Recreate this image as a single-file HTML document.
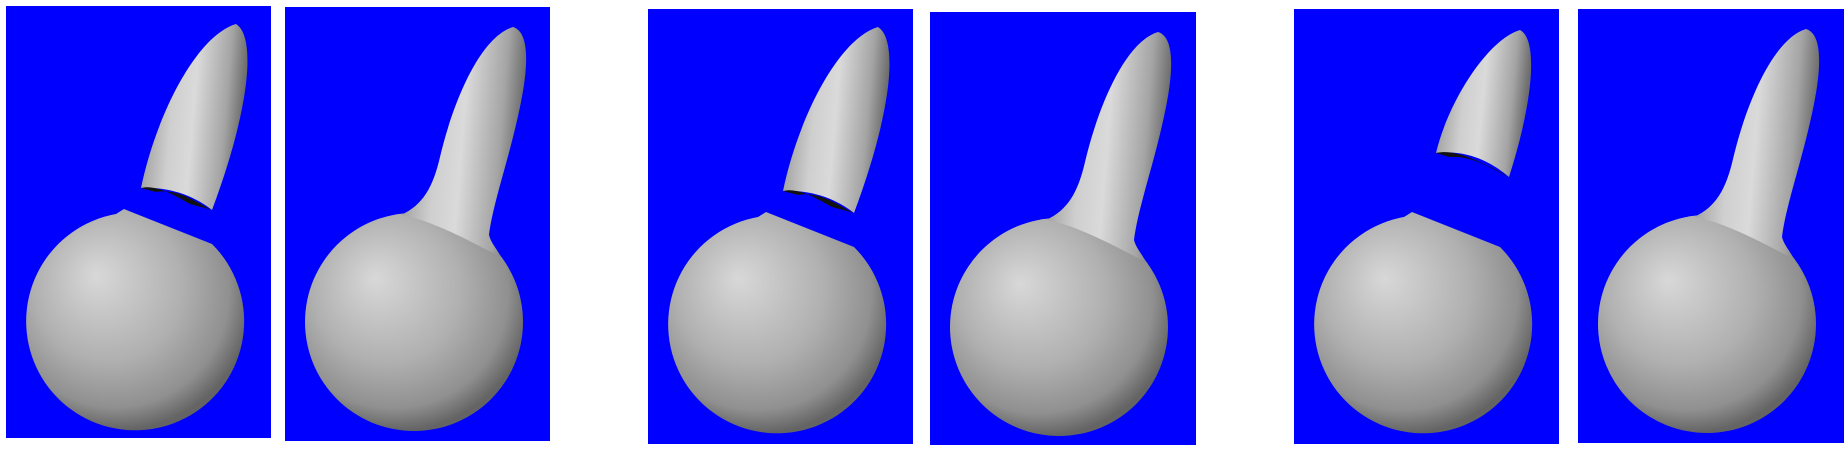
<!DOCTYPE html>
<html><head><meta charset="utf-8"><style>
html,body{margin:0;padding:0;background:#fff;width:1848px;height:452px;overflow:hidden}
svg{display:block}
</style></head><body>
<svg width="1848" height="452" viewBox="0 0 1848 452">
<defs>
<radialGradient id="sph" cx="0.42" cy="0.38" r="0.62" fx="0.32" fy="0.3">
<stop offset="0" stop-color="#d8d8d8"/><stop offset="0.55" stop-color="#b0b0b0"/><stop offset="0.85" stop-color="#909090"/><stop offset="1" stop-color="#646464"/>
</radialGradient>
<linearGradient id="fin" x1="0" y1="0" x2="1" y2="0.15">
<stop offset="0" stop-color="#8c8c8c"/><stop offset="0.35" stop-color="#cfcfcf"/><stop offset="0.55" stop-color="#dadada"/><stop offset="0.85" stop-color="#a4a4a4"/><stop offset="1" stop-color="#6e6e6e"/>
</linearGradient>
<g id="sep">
<path d="M118,203 L206,238 A109,109 0 1 1 110,208 Z" fill="url(#sph)"/>
</g>
<g id="joined">
<circle cx="129" cy="315" r="109" fill="url(#sph)"/>
<path d="M116,208 C138,198 148,180 155,150 C168,95 195,30 228,20 C245,25 243,60 236,95 C225,150 208,195 204,228 C206,236 212,242 216,250 L200,242 C170,226 140,212 116,208 Z" fill="url(#fin)"/>
</g>
</defs>

<g transform="translate(6,6)">
<rect width="265" height="432" fill="#0000fe"/>
<use href="#sep"/>
<path d="M135,182 C150,110 190,30 230,18 C250,30 245,100 206,204 C195,195 170,180 135,182 Z" fill="url(#fin)"/>
<path d="M135,182 C150,178 170,190 184,198 L206,204 C195,200 175,182 150,186 Z" fill="#111"/>
</g>
<g transform="translate(285,7)">
<rect width="265" height="434" fill="#0000fe"/>
<use href="#joined"/>
</g>
<g transform="translate(648,9)">
<rect width="265" height="435" fill="#0000fe"/>
<use href="#sep"/>
<path d="M135,182 C150,110 190,30 230,18 C250,30 245,100 206,204 C195,195 170,180 135,182 Z" fill="url(#fin)"/>
<path d="M135,182 C150,178 170,190 184,198 L206,204 C195,200 175,182 150,186 Z" fill="#111"/>
</g>
<g transform="translate(930,12)">
<rect width="266" height="433" fill="#0000fe"/>
<use href="#joined"/>
</g>
<g transform="translate(1294,9)">
<rect width="265" height="435" fill="#0000fe"/>
<use href="#sep"/>
<path d="M142,144 C155,90 195,30 226,21 C244,30 240,90 215,168 C200,155 175,140 142,144 Z" fill="url(#fin)"/>
<path d="M142,144 C160,140 180,150 200,160 L215,168 C200,162 180,146 155,148 Z" fill="#111"/>
</g>
<g transform="translate(1578,9)">
<rect width="266" height="434" fill="#0000fe"/>
<use href="#joined"/>
</g>
</svg>
</body></html>
